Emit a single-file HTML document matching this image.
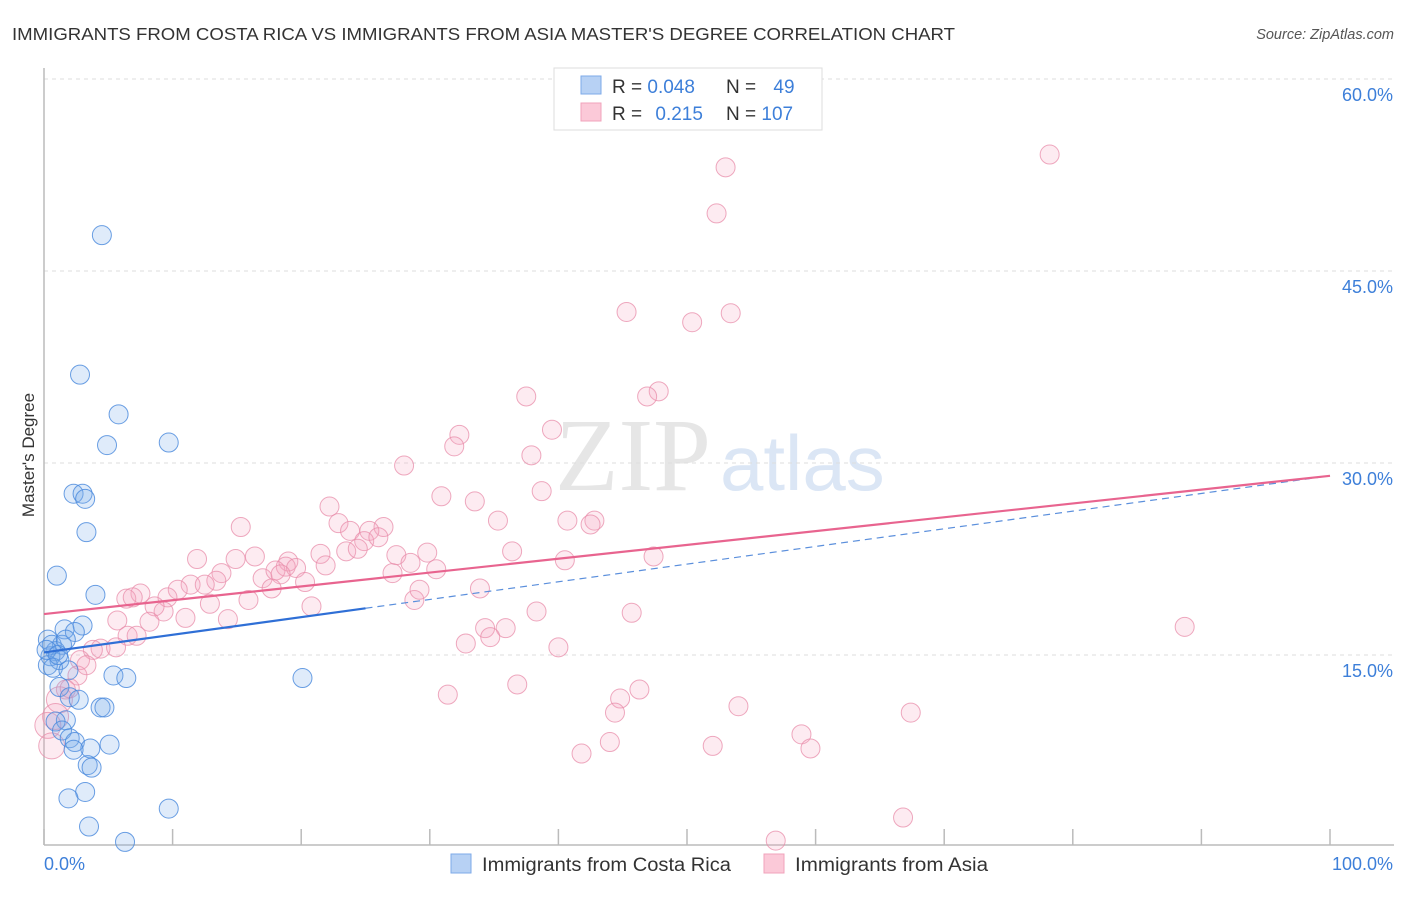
<!DOCTYPE html>
<html><head><meta charset="utf-8"><style>
body{margin:0;background:#fff;font-family:"Liberation Sans",sans-serif}
</style></head><body>
<svg width="1406" height="892" style="font-family:'Liberation Sans',sans-serif">
<text x="12" y="40" font-size="17.5" fill="#333" textLength="943" lengthAdjust="spacingAndGlyphs">IMMIGRANTS FROM COSTA RICA VS IMMIGRANTS FROM ASIA MASTER'S DEGREE CORRELATION CHART</text>
<text x="1394" y="39" font-size="14.5" fill="#555" font-style="italic" text-anchor="end">Source: ZipAtlas.com</text>
<text transform="translate(34,455) rotate(-90)" font-size="17" fill="#333" text-anchor="middle">Master's Degree</text>
<text x="555" y="490" font-size="104" fill="#e6e6e6" font-family="Liberation Serif">ZIP</text>
<text x="720" y="490" font-size="78" fill="#dbe6f5">atlas</text>
<g id="grid"></g>
<g id="axes"></g>
<g id="pts"></g>
<g id="trend"></g>
<g>
<rect x="554" y="68" width="268" height="62" fill="#fff" stroke="#ddd"/>
<rect x="581" y="76" width="20" height="18" fill="#b7d1f4" stroke="#7eaae8"/>
<rect x="581" y="103" width="20" height="18" fill="#fbc9d8" stroke="#f0a3bb"/>
<text x="612" y="93" font-size="19" fill="#333">R = <tspan fill="#3d7fd9">0.048</tspan></text>
<text x="726" y="93" font-size="19" fill="#333">N = <tspan fill="#3d7fd9" dx="12">49</tspan></text>
<text x="612" y="120" font-size="19" fill="#333">R = <tspan fill="#3d7fd9" dx="8">0.215</tspan></text>
<text x="726" y="120" font-size="19" fill="#333">N = <tspan fill="#3d7fd9">107</tspan></text>
</g>
<g>
<rect x="451" y="854" width="20" height="19" fill="#b7d1f4" stroke="#7eaae8"/>
<text x="482" y="871" font-size="19" fill="#333" textLength="249" lengthAdjust="spacingAndGlyphs">Immigrants from Costa Rica</text>
<rect x="764" y="854" width="20" height="19" fill="#fbc9d8" stroke="#f0a3bb"/>
<text x="795" y="871" font-size="19" fill="#333" textLength="193" lengthAdjust="spacingAndGlyphs">Immigrants from Asia</text>
</g>
</svg>
<script>
const yTicks=[15,30,45,60];
const yTickLabels=["15.0%","30.0%","45.0%","60.0%"];
const blueX=[4.5,2.8,5.8,4.9,9.7,2.3,3.0,3.2,3.3,1.0,4.0,3.0,1.6,2.4,0.3,1.4,0.9,0.5,1.2,0.3,0.7,1.9,5.4,6.4,20.1,1.2,2.0,2.7,4.4,4.7,1.7,0.9,1.4,2.0,2.4,5.1,3.6,2.3,3.4,3.7,3.2,1.9,9.7,3.5,6.3,0.6,0.2,1.1,1.7];
const blueY=[47.8,36.9,33.8,31.4,31.6,27.6,27.6,27.2,24.6,21.2,19.7,17.3,17.0,16.8,16.2,15.8,15.3,14.9,14.6,14.2,14.0,13.8,13.4,13.2,13.2,12.5,11.7,11.5,10.9,10.9,9.9,9.8,9.1,8.5,8.2,8.0,7.7,7.6,6.4,6.2,4.3,3.8,3.0,1.6,0.4,15.8,15.4,15.0,16.2];
const pinkX=[78.2,53.0,52.3,45.3,53.4,50.4,47.8,46.9,37.5,32.3,31.9,39.5,37.9,28.0,38.7,30.9,33.5,22.2,35.3,40.7,42.8,42.5,22.9,23.8,26.4,25.3,15.3,24.9,26.0,23.5,24.4,36.4,47.4,40.5,11.9,14.9,16.4,19.0,21.5,27.4,28.5,29.8,18.8,19.6,21.9,30.5,13.8,17.0,18.0,18.4,27.1,13.4,11.4,17.7,20.3,12.5,10.4,7.5,6.4,9.6,6.9,15.9,12.9,9.3,8.6,20.8,28.8,29.2,33.9,38.3,45.7,5.7,8.2,11.0,14.3,6.5,7.2,34.3,35.9,34.7,4.4,5.6,3.8,32.8,40.0,2.8,2.6,1.7,1.2,88.7,36.8,31.4,46.3,44.8,44.4,54.0,67.4,0.9,0.3,0.6,44.0,52.0,41.8,58.9,59.6,66.8,56.9,2.0,3.3];
const pinkY=[54.1,53.1,49.5,41.8,41.7,41.0,35.6,35.2,35.2,32.2,31.3,32.6,30.6,29.8,27.8,27.4,27.0,26.6,25.5,25.5,25.5,25.2,25.3,24.7,25.0,24.7,25.0,23.9,24.2,23.1,23.3,23.1,22.7,22.4,22.5,22.5,22.7,22.3,22.9,22.8,22.2,23.0,21.9,21.8,22.0,21.7,21.4,21.0,21.6,21.3,21.4,20.8,20.5,20.2,20.7,20.5,20.1,19.8,19.4,19.5,19.5,19.3,19.0,18.4,18.8,18.8,19.3,20.1,20.2,18.4,18.3,17.7,17.6,17.9,17.8,16.5,16.5,17.1,17.1,16.4,15.5,15.6,15.4,15.9,15.6,14.6,13.4,12.3,11.5,17.2,12.7,11.9,12.3,11.6,10.5,11.0,10.5,10.2,9.5,7.9,8.2,7.9,7.3,8.8,7.7,2.3,0.5,12.4,14.2];
const blueTrend=[15.2,29.0];
const pinkTrend=[18.2,29.0];
const blueSolidEnd=25;
const NS="http://www.w3.org/2000/svg";
const X0=44,X1=1330,Y0=847,PPU=12.8;
const sx=v=>X0+(X1-X0)*v/100, sy=v=>Y0-v*PPU;
function mk(t,a,p){const e=document.createElementNS(NS,t);for(const k in a)e.setAttribute(k,a[k]);p.appendChild(e);return e;}
const grid=document.getElementById('grid'),axes=document.getElementById('axes'),pts=document.getElementById('pts'),tr=document.getElementById('trend');
yTicks.forEach((v,i)=>{
 const l=mk('line',{x1:X0,x2:1394,y1:sy(v),y2:sy(v),stroke:'#ddd','stroke-dasharray':'4,4'},grid);
 
 
 const t=mk('text',{x:1393,y:sy(v)+22,'font-size':18,fill:'#3d7fd9','text-anchor':'end'},grid);
 t.textContent=yTickLabels[i];
 
 
});
const a1=mk('line',{x1:X0,x2:X0,y1:68,y2:845,stroke:'#bbb','stroke-width':1.5},axes);


const a2=mk('line',{x1:X0,x2:1394,y1:845,y2:845,stroke:'#bbb','stroke-width':1.5},axes);


for(let i=0;i<=10;i++){const t=mk('line',{x1:sx(i*10),x2:sx(i*10),y1:829,y2:845,stroke:'#bbb','stroke-width':1.5},axes);
 
 }
const xl=mk('text',{x:44,y:870,'font-size':18,fill:'#3d7fd9'},axes);xl.textContent='0.0%';


const xr=mk('text',{x:1393,y:870,'font-size':18,fill:'#3d7fd9','text-anchor':'end'},axes);xr.textContent='100.0%';


function dots(X,Y,fill,stroke,name){X.forEach((x,i)=>{const r=(x<1.5&&name=='pink-point')?13:9.5;
 const c=mk('circle',{cx:sx(x),cy:sy(Y[i]),r:r,fill:fill,stroke:stroke,'stroke-width':1},pts);
 
 });}
dots(pinkX,pinkY,'rgba(245,165,190,0.22)','rgba(232,140,170,0.75)','pink-point');
dots(blueX,blueY,'rgba(120,170,235,0.24)','rgba(70,135,220,0.8)','blue-point');
const bv=x=>blueTrend[0]+(blueTrend[1]-blueTrend[0])*x/100;
const b1=mk('line',{x1:sx(0),y1:sy(bv(0)),x2:sx(blueSolidEnd),y2:sy(bv(blueSolidEnd)),stroke:'#2f6fd6','stroke-width':2.2},tr);


const b2=mk('line',{x1:sx(blueSolidEnd),y1:sy(bv(blueSolidEnd)),x2:sx(100),y2:sy(bv(100)),stroke:'#5b8fdc','stroke-width':1.2,'stroke-dasharray':'7,5'},tr);


const p1=mk('line',{x1:sx(0),y1:sy(pinkTrend[0]),x2:sx(100),y2:sy(pinkTrend[1]),stroke:'#e8648f','stroke-width':2.2},tr);


</script>
</body></html>
